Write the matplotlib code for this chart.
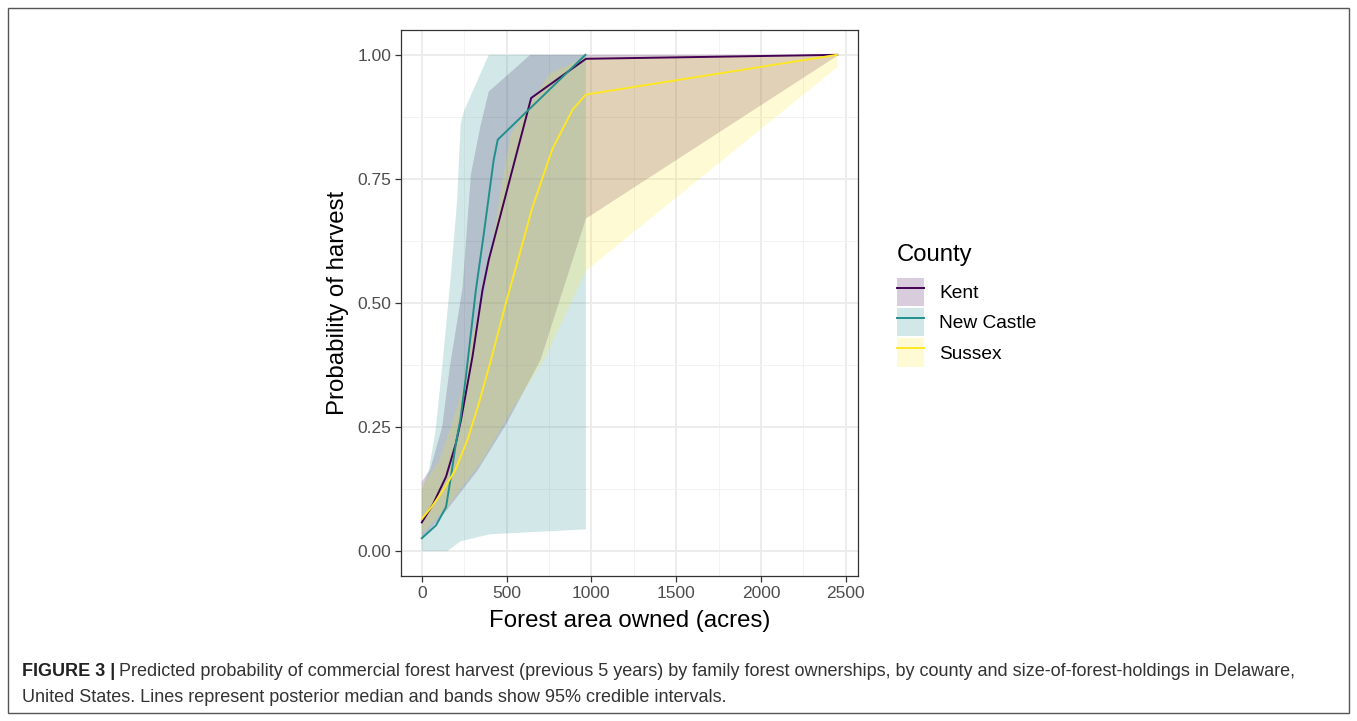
import numpy as np
import matplotlib.pyplot as plt
from matplotlib.patches import Patch, Rectangle
from matplotlib.lines import Line2D
from matplotlib.legend_handler import HandlerTuple

plt.rcParams['font.family'] = ['Liberation Sans', 'DejaVu Sans']

counties = ['Kent', 'New Castle', 'Sussex']
colors = ['#440154', '#21908C', '#FDE725']

# posterior medians
kent_x = [0, 64, 143, 201, 231, 299, 358, 395, 645, 968, 2450]
kent_y = [0.058, 0.093, 0.150, 0.217, 0.264, 0.392, 0.526, 0.587, 0.913, 0.992, 1.0]
nc_x = [0, 84, 143, 172, 201, 227, 260, 319, 366, 424, 448, 965]
nc_y = [0.026, 0.052, 0.089, 0.150, 0.217, 0.264, 0.351, 0.526, 0.640, 0.788, 0.829, 1.0]
sus_x = [0, 60, 130, 200, 270, 330, 400, 500, 570, 650, 770, 890, 968, 2450]
sus_y = [0.065, 0.090, 0.125, 0.165, 0.225, 0.290, 0.375, 0.505, 0.590, 0.690, 0.810, 0.890, 0.920, 1.0]

# 95% credible bands: lower and upper edges
kent_lo_x = [0, 130, 330, 500, 700, 968, 2450]
kent_lo_y = [0.025, 0.075, 0.163, 0.257, 0.385, 0.670, 0.998]
kent_hi_x = [0, 50, 120, 165, 240, 270, 290, 345, 395, 640, 2450]
kent_hi_y = [0.14, 0.165, 0.25, 0.37, 0.53, 0.667, 0.76, 0.855, 0.926, 1.0, 1.0]

nc_lo_x = [0, 150, 230, 400, 968]
nc_lo_y = [0.0, 0.0, 0.02, 0.034, 0.044]
nc_hi_x = [0, 40, 80, 120, 170, 209, 229, 248, 395, 968]
nc_hi_y = [0.125, 0.16, 0.24, 0.37, 0.55, 0.71, 0.86, 0.886, 1.0, 1.0]

sus_lo_x = [0, 150, 355, 520, 720, 968, 2450]
sus_lo_y = [0.035, 0.089, 0.183, 0.278, 0.385, 0.565, 0.975]
sus_hi_x = [0, 100, 180, 240, 290, 365, 425, 480, 525, 757, 933, 968, 2450]
sus_hi_y = [0.13, 0.18, 0.26, 0.325, 0.425, 0.513, 0.64, 0.755, 0.84, 0.963, 0.99, 0.995, 1.0]

medians = [(kent_x, kent_y), (nc_x, nc_y), (sus_x, sus_y)]
bands = [(kent_lo_x, kent_lo_y, kent_hi_x, kent_hi_y),
         (nc_lo_x, nc_lo_y, nc_hi_x, nc_hi_y),
         (sus_lo_x, sus_lo_y, sus_hi_x, sus_hi_y)]

fig = plt.figure(figsize=(13.57, 7.21), dpi=100)
ax = fig.add_axes([401 / 1357, 1 - 576 / 721, 457 / 1357, 546 / 721])

# ribbons first, then lines (ggplot layer order)
for (lx, ly, hx, hy), c in zip(bands, colors):
    px = np.concatenate([lx, hx[::-1]])
    py = np.concatenate([ly, hy[::-1]])
    ax.fill(px, py, color=c, alpha=0.2, lw=0, zorder=2)
for (x, y), c in zip(medians, colors):
    ax.plot(x, y, color=c, lw=1.4, zorder=3)

xmax = 2450
ax.set_xlim(-0.05 * xmax, xmax * 1.05)
ax.set_ylim(-0.05, 1.05)
ax.set_xticks([0, 500, 1000, 1500, 2000, 2500])
ax.set_xticks([250, 750, 1250, 1750, 2250], minor=True)
ax.set_yticks([0, 0.25, 0.5, 0.75, 1.0])
ax.set_yticks([0.125, 0.375, 0.625, 0.875], minor=True)
ax.set_yticklabels(['0.00', '0.25', '0.50', '0.75', '1.00'])
ax.grid(which='major', color='#EBEBEB', lw=1.3, zorder=0)
ax.grid(which='minor', color='#F2F2F2', lw=0.7, zorder=0)
ax.set_axisbelow(True)
for s in ax.spines.values():
    s.set_color('#333333')
    s.set_linewidth(0.9)
ax.tick_params(which='major', length=4, width=0.9, color='#333333',
               labelsize=12.5, labelcolor='#4D4D4D', pad=3)
ax.tick_params(which='minor', length=0)

ax.set_xlabel('Forest area owned (acres)', fontsize=17.3, labelpad=7)
ax.set_ylabel('Probability of harvest', fontsize=17.3, labelpad=6)

# legend: title as separate text, keys below
fig.text(897 / 1357, 1 - 255 / 721, 'County', fontsize=17.2, va='center', ha='left')
handles = [(Patch(facecolor=c, alpha=0.2, lw=0), Line2D([], [], color=c, lw=1.4))
           for c in colors]
leg = fig.legend(handles, counties, loc='upper left', bbox_to_anchor=(889 / 1357, 1 - 270 / 721),
                 fontsize=13.8, frameon=False,
                 handler_map={tuple: HandlerTuple(ndivide=1, pad=0)},
                 handlelength=1.45, handleheight=1.9, labelspacing=0.1, handletextpad=0.78,
                 borderaxespad=0)

# outer frame
fig.add_artist(Rectangle((8 / 1357, 8 / 721), 1341 / 1357, 705 / 721, transform=fig.transFigure,
                         fill=False, edgecolor='#555555', lw=1.0))

# caption
fig.canvas.draw()
renderer = fig.canvas.get_renderer()
cap_font = ['Liberation Sans Narrow', 'Liberation Sans', 'DejaVu Sans']
t1 = fig.text(22 / 1357, 1 - 672 / 721, 'FIGURE 3 |', fontsize=13, fontweight='bold',
              family=cap_font, va='center', color='#222222')
bb = t1.get_window_extent(renderer)
fig.text((bb.x1 + 4) / 1357, 1 - 672 / 721,
         'Predicted probability of commercial forest harvest (previous 5 years) by family forest '
         'ownerships, by county and size-of-forest-holdings in Delaware,',
         fontsize=13, family=cap_font, va='center', color='#333333')
fig.text(22 / 1357, 1 - 698 / 721,
         'United States. Lines represent posterior median and bands show 95% credible intervals.',
         fontsize=13, family=cap_font, va='center', color='#333333')

fig.savefig('out.png', dpi=100)
